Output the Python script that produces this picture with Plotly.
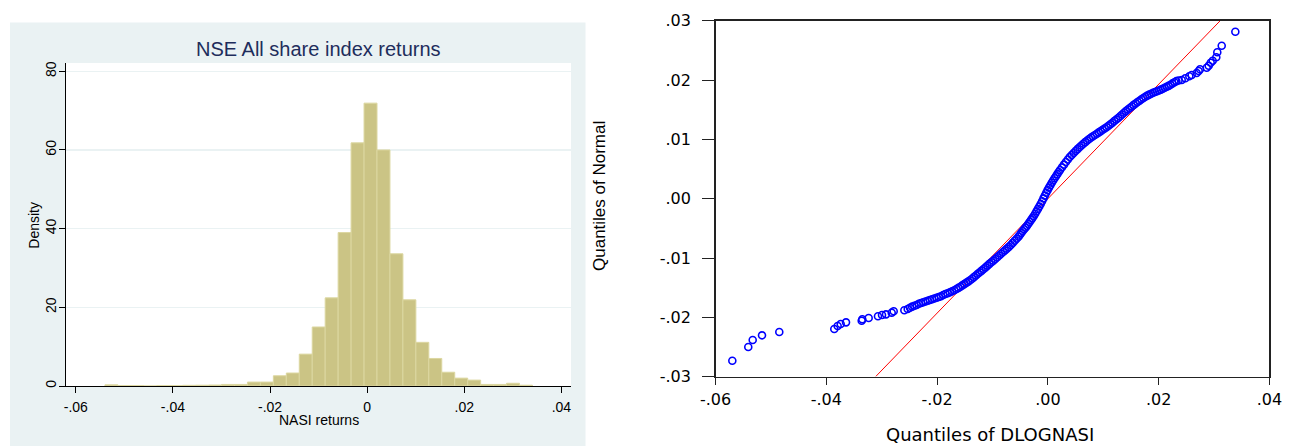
import numpy as np
import plotly.graph_objects as go

W, H = 1293, 446

# ---------------- Left panel: histogram data ----------------
BIN_START = -0.0540
BIN_WIDTH = 0.002668
DENSITY = [0.3, 0.1, 0.1, 0.0, 0.1, 0.1, 0.17, 0.2, 0.25, 0.4, 0.4,
           1.0, 1.0, 2.6, 3.3, 8.1, 15.0, 22.4, 39.0, 61.8, 71.9,
           60.0, 33.6, 21.9, 11.1, 7.0, 3.5, 2.0, 1.5, 0.4, 0.4, 0.7, 0.2]
HIST_XTICKS = [-0.06, -0.04, -0.02, 0.0, 0.02, 0.04]
HIST_XTICKTEXT = ["-.06", "-.04", "-.02", "0", ".02", ".04"]
HIST_YTICKS = [0, 20, 40, 60, 80]

# ---------------- Right panel: QQ plot data (units of 0.001) ----------------
QQ_X_MILLI = [
    -56.98, -54.10, -53.30, -51.62, -48.50, -38.57, -37.96, -37.41, -36.45, -33.62,
    -33.51, -32.36, -30.68, -29.95, -29.23, -28.20, -27.84, -25.92, -25.31,
    -24.9, -24.5, -24.1, -23.7, -23.3, -22.9, -22.5, -22.1, -21.7, -21.3,
    -20.9, -20.5, -20.1, -19.7, -19.3, -18.9, -18.5, -18.1, -17.7, -17.3, -16.9,
    -16.5, -16.15, -15.8, -15.45, -15.1, -14.75, -14.4, -14.05, -13.7, -13.35,
    -13.0, -12.65, -12.3, -11.95, -11.6, -11.25, -10.9, -10.55, -10.2, -9.85,
    -9.5, -9.15, -8.8, -8.45, -8.1, -7.75, -7.4, -7.05, -6.7, -6.35, -6.0, -5.65, -5.3,
    -5.05, -4.8, -4.55, -4.3, -4.05, -3.8, -3.55, -3.3, -3.05, -2.8, -2.55, -2.3,
    -2.05, -1.8, -1.55, -1.3, -1.05, -0.8, -0.55, -0.3, -0.05, 0.2, 0.45, 0.7,
    0.95, 1.2, 1.45, 1.7, 1.95, 2.2,
    2.55, 2.9, 3.25, 3.6, 3.95, 4.3, 4.65, 5.0, 5.35, 5.7, 6.05, 6.4, 6.75, 7.1,
    7.45, 7.8, 8.15, 8.5, 8.85, 9.2, 9.55, 9.9, 10.25, 10.6, 10.95, 11.3, 11.65,
    12.0, 12.35,
    12.7, 13.05, 13.4, 13.75, 14.1, 14.45, 14.8, 15.15, 15.5, 15.85, 16.2, 16.55,
    16.9, 17.25, 17.6, 17.95, 18.3, 18.65, 19.0, 19.35, 19.7, 20.05, 20.4, 20.75,
    21.1, 21.45, 21.8, 22.15, 22.5, 22.85, 23.2, 23.6,
    24.17, 24.82, 25.54, 25.97, 26.87, 27.23, 27.47, 28.68, 29.04, 29.40, 29.76,
    30.41, 30.59, 31.39, 33.85,
]
QQ_Y_MILLI = [
    -27.32, -25.01, -23.83, -23.04, -22.48, -21.97, -21.47, -21.13, -20.85, -20.57,
    -20.34, -20.12, -19.83, -19.61, -19.50, -19.22, -18.99, -18.82, -18.60,
    -18.38, -18.20, -18.06, -17.93, -17.72, -17.58, -17.46, -17.34, -17.20, -17.08,
    -16.95, -16.83, -16.70, -16.58, -16.44, -16.25, -16.08, -15.95, -15.79, -15.62, -15.44,
    -15.23, -15.04, -14.84, -14.62, -14.41, -14.19, -13.98, -13.76, -13.49, -13.22,
    -12.94, -12.67, -12.40, -12.13, -11.86, -11.58, -11.28, -10.99, -10.72, -10.45,
    -10.17, -9.88, -9.58, -9.29, -9.0, -8.71, -8.42, -8.13, -7.80, -7.45, -7.10, -6.75, -6.40,
    -6.08, -5.76, -5.44, -5.16, -4.88, -4.60, -4.27, -3.93, -3.60, -3.27, -2.92, -2.53,
    -2.13, -1.72, -1.31, -0.88, -0.42, 0.05, 0.52, 0.99, 1.44, 1.87, 2.28, 2.68,
    3.07, 3.44, 3.79, 4.14, 4.49, 4.84,
    5.29, 5.74, 6.18, 6.60, 7.02, 7.37, 7.71, 8.04, 8.36, 8.68, 8.97, 9.26, 9.54, 9.81,
    10.08, 10.32, 10.54, 10.75, 10.96, 11.18, 11.40, 11.62, 11.84, 12.06, 12.30, 12.55, 12.82,
    13.10, 13.36,
    13.62, 13.90, 14.20, 14.50, 14.77, 15.03, 15.30, 15.56, 15.82, 16.06, 16.30, 16.53,
    16.76, 16.97, 17.18, 17.38, 17.55, 17.71, 17.86, 18.00, 18.12, 18.25, 18.39, 18.54,
    18.70, 18.87, 19.03, 19.22, 19.44, 19.65, 19.82, 19.92,
    20.02, 20.30, 20.64, 20.86, 21.20, 21.53, 21.82, 22.09, 22.43, 22.93, 23.27,
    23.85, 24.69, 25.80, 28.16,
]
REF_LINE_X = [-0.0311, 0.0311]
REF_LINE_Y = [-0.030, 0.030]
QQ_XTICKS = [-0.06, -0.04, -0.02, 0.0, 0.02, 0.04]
QQ_XTICKTEXT = ["-.06", "-.04", "-.02", ".00", ".02", ".04"]
QQ_YTICKS = [-0.03, -0.02, -0.01, 0.0, 0.01, 0.02, 0.03]
QQ_YTICKTEXT = ["-.03", "-.02", "-.01", ".00", ".01", ".02", ".03"]

# ---------------- helpers ----------------
def px_x(p):
    return p / W

def px_y(p):
    return 1 - p / H

BG = "#eaf2f3"
ARIAL = "Liberation Sans, Arial, sans-serif"

fig = go.Figure()

centers = BIN_START + BIN_WIDTH * (np.arange(len(DENSITY)) + 0.5)
fig.add_trace(go.Bar(
    x=centers, y=DENSITY, width=BIN_WIDTH,
    marker=dict(color="#cbc485", line=dict(color="#dcd7a0", width=1)),
    xaxis="x", yaxis="y", showlegend=False, hoverinfo="skip",
))

fig.add_trace(go.Scatter(
    x=REF_LINE_X, y=REF_LINE_Y, mode="lines",
    line=dict(color="#ff0000", width=1),
    xaxis="x2", yaxis="y2", showlegend=False, hoverinfo="skip",
))
fig.add_trace(go.Scatter(
    x=np.array(QQ_X_MILLI) * 1e-3, y=np.array(QQ_Y_MILLI) * 1e-3, mode="markers",
    marker=dict(symbol="circle-open", size=7, color="#0000ff",
                line=dict(color="#0000ff", width=1.6)),
    xaxis="x2", yaxis="y2", showlegend=False, hoverinfo="skip",
))

fig.update_layout(
    template="none",
    width=W, height=H,
    margin=dict(l=0, r=0, t=0, b=0, pad=0, autoexpand=False),
    paper_bgcolor="white", plot_bgcolor="white",
    bargap=0, showlegend=False,
    font=dict(family=ARIAL, color="black"),
    xaxis=dict(
        domain=[px_x(66), px_x(571)], range=[-0.06202, 0.04198],
        tickvals=HIST_XTICKS, ticktext=HIST_XTICKTEXT,
        ticks="outside", ticklen=6, tickcolor="black", tickwidth=1,
        showline=True, linecolor="black", linewidth=1,
        showgrid=False, zeroline=False, automargin=False,
        tickfont=dict(size=14, family=ARIAL, color="black"),
        ticklabelstandoff=2, anchor="y", fixedrange=True,
    ),
    yaxis=dict(
        domain=[px_y(386), px_y(63)], range=[0, 82.1],
        tickvals=HIST_YTICKS, tickangle=-90,
        ticks="outside", ticklen=6, tickcolor="black", tickwidth=1,
        showline=True, linecolor="black", linewidth=1,
        showgrid=True, gridcolor=BG, gridwidth=1.5, zeroline=False, automargin=False,
        tickfont=dict(size=14, family=ARIAL, color="black"),
        ticklabelstandoff=-3, anchor="x", fixedrange=True,
    ),
    xaxis2=dict(
        domain=[px_x(715.6), px_x(1269.4)], range=[-0.06, 0.04],
        tickvals=QQ_XTICKS, ticktext=QQ_XTICKTEXT,
        ticks="outside", ticklen=7, tickcolor="#222", tickwidth=1,
        showline=True, mirror=True, linecolor="#222", linewidth=1.5,
        showgrid=False, zeroline=False, automargin=False,
        tickfont=dict(size=16, family="DejaVu Sans", color="black"),
        ticklabelstandoff=1, anchor="y2", fixedrange=True,
    ),
    yaxis2=dict(
        domain=[px_y(376.6), px_y(20.8)], range=[-0.03, 0.03],
        tickvals=QQ_YTICKS, ticktext=QQ_YTICKTEXT,
        ticks="outside", ticklen=12, tickcolor="#222", tickwidth=1,
        showline=True, mirror=True, linecolor="#222", linewidth=1.5,
        showgrid=False, zeroline=False, automargin=False,
        tickfont=dict(size=16, family="DejaVu Sans", color="black"),
        ticklabelstandoff=8, anchor="x2", fixedrange=True,
    ),
    shapes=[
        dict(type="rect", xref="paper", yref="paper", layer="below",
             x0=px_x(10), x1=px_x(585.5), y0=0, y1=px_y(22.5),
             fillcolor=BG, line=dict(width=0)),
        dict(type="rect", xref="paper", yref="paper", layer="below",
             x0=px_x(66), x1=px_x(571), y0=px_y(386), y1=px_y(63),
             fillcolor="white", line=dict(width=0)),
    ],
    annotations=[
        dict(text="NSE All share index returns", xref="paper", yref="paper",
             x=px_x(318.5), y=px_y(49), xanchor="center", yanchor="middle",
             showarrow=False, font=dict(size=20, family=ARIAL, color="#1e2d5c")),
        dict(text="NASI returns", xref="paper", yref="paper",
             x=px_x(318.5), y=px_y(419.5), xanchor="center", yanchor="middle",
             showarrow=False, font=dict(size=14, family=ARIAL, color="black")),
        dict(text="Density", xref="paper", yref="paper", textangle=-90,
             x=px_x(33.7), y=px_y(225), xanchor="center", yanchor="middle",
             showarrow=False, font=dict(size=14, family=ARIAL, color="black")),
        dict(text="Quantiles of DLOGNASI", xref="paper", yref="paper",
             x=px_x(990), y=px_y(434.5), xanchor="center", yanchor="middle",
             showarrow=False, font=dict(size=18, family="DejaVu Sans", color="black")),
        dict(text="Quantiles of Normal", xref="paper", yref="paper", textangle=-90,
             x=px_x(600), y=px_y(196), xanchor="center", yanchor="middle",
             showarrow=False, font=dict(size=17, family=ARIAL, color="black")),
    ],
)

fig.write_html(
    "out.html",
    config={"displayModeBar": False, "staticPlot": True},
    post_script=["document.body.style.margin='0';document.body.style.overflow='hidden';"],
)
